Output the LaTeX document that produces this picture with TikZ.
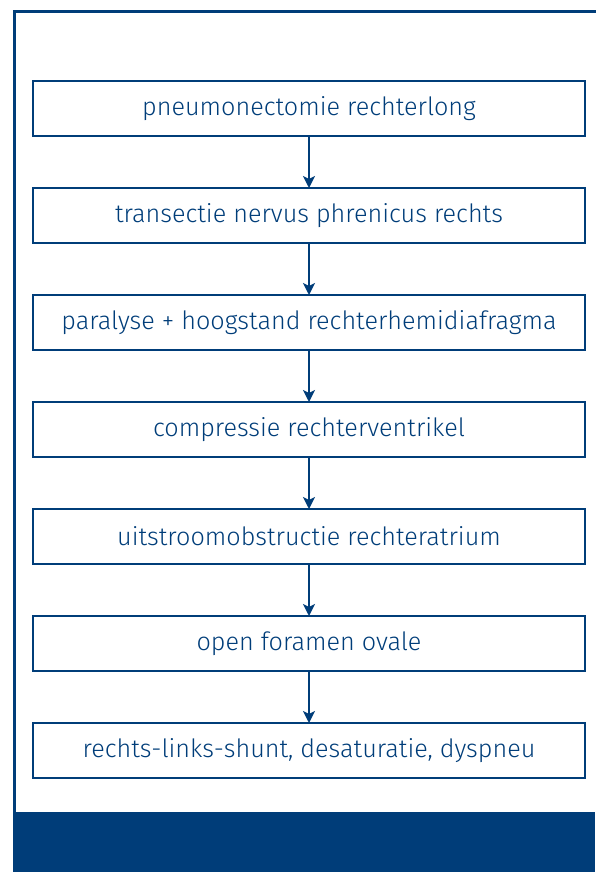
\documentclass[tikz,border=0pt]{standalone}
\usepackage{fontspec}
\setmainfont{Fira Sans Light}
\usetikzlibrary{positioning,arrows.meta}
\definecolor{umcblue}{RGB}{0,61,121}

\begin{document}
\begin{tikzpicture}[x=1pt,y=-1pt,
		stap/.style={draw=umcblue, line width=1.8pt, minimum width=552pt, minimum height=55pt,
			inner sep=0pt, outer sep=0pt, text=umcblue, font=\fontsize{25.2}{29}\selectfont},
		pijl/.style={draw=umcblue, line width=2.4pt, -{Stealth[length=12pt,width=12pt,inset=3pt]}},
		node distance=52pt]
		%%%%% START %%%%%
		
		\useasboundingbox (0,0) rectangle (595,872);
		
		% kader en balk
		\draw[umcblue, line width=2.6pt] (14.5,812) -- (14.5,11.5) -- (600,11.5);
		\fill[umcblue] (13,812) rectangle (595,872);
		
		\node[stap] (a) at (309,108.5) {pneumonectomie rechterlong};
		\node[stap, below=of a] (b) {transectie nervus phrenicus rechts};
		\node[stap, below=of b] (c) {paralyse + hoogstand rechterhemidiafragma};
		\node[stap, below=of c] (d) {compressie rechterventrikel};
		\node[stap, below=of d] (e) {uitstroomobstructie rechteratrium};
		\node[stap, below=of e] (f) {open foramen ovale};
		\node[stap, below=of f] (g) {rechts-links-shunt, desaturatie, dyspneu};
		
		\draw[pijl] (a) -- (b);
		\draw[pijl] (b) -- (c);
		\draw[pijl] (c) -- (d);
		\draw[pijl] (d) -- (e);
		\draw[pijl] (e) -- (f);
		\draw[pijl] (f) -- (g);
		
		%%%%% END %%%%%
	\end{tikzpicture}
\end{document}
